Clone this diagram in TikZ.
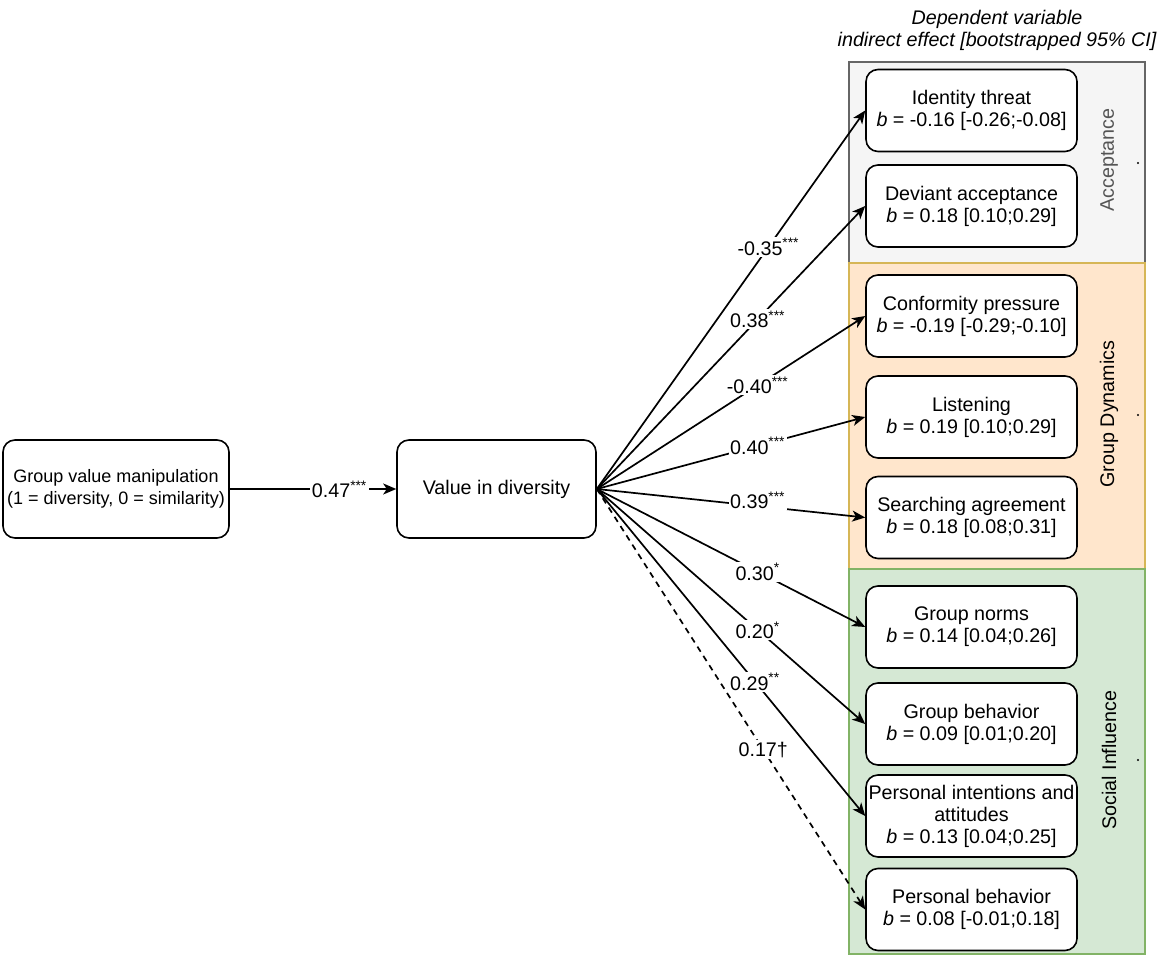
\documentclass[tikz,border=0pt]{standalone}
\usepackage{fontspec}
\setmainfont{Liberation Sans}
\usetikzlibrary{arrows.meta}
\definecolor{accfill}{HTML}{F5F5F5}
\definecolor{accline}{HTML}{666666}
\definecolor{acctext}{HTML}{555555}
\definecolor{gdfill}{HTML}{FFE6CC}
\definecolor{gdline}{HTML}{D6B656}
\definecolor{sifill}{HTML}{D5E8D4}
\definecolor{siline}{HTML}{82B366}
\begin{document}
\begin{tikzpicture}[x=0.5pt,y=-0.5pt,
  every node/.style={font=\fontsize{9.85}{11}\selectfont},
  box/.style={draw, rounded corners=6pt, line width=0.8pt, fill=white, align=center, inner sep=0pt, minimum width=105.5pt, minimum height=41pt},
  lab/.style={fill=white, inner sep=0.8pt},
  arr/.style={-{Stealth[length=6.5pt,width=5.5pt,inset=1.8pt]}, line width=0.85pt},
  panel/.style={line width=0.6pt}]
\useasboundingbox (0,0) rectangle (1170,961);
\filldraw[panel, draw=accline, fill=accfill] (849,62) rectangle (1145,263);
\filldraw[panel, draw=gdline, fill=gdfill] (849,263) rectangle (1145,569);
\filldraw[panel, draw=siline, fill=sifill] (849,569) rectangle (1145,954);
\node[rotate=90, text=acctext] (pacc) at (1109,160) {Acceptance};
\node[rotate=90] (pgd) at (1109,414) {Group Dynamics};
\node[rotate=90] (psi) at (1109,760) {Social Influence};
\fill (1138,163) circle (1.2);
\fill (1138,415) circle (1.2);
\fill (1138,760) circle (1.2);
\node[align=center, font=\fontsize{9.85}{11}\selectfont\itshape] (hdr) at (997,30) {Dependent variable\\indirect effect [bootstrapped 95\% CI]};
\node[box, minimum width=113pt, minimum height=49pt, font=\fontsize{9}{11}\selectfont] (gvm) at (116,489) {Group value manipulation\\(1 = diversity, 0 = similarity)};
\node[box, minimum width=99.5pt, minimum height=49pt] (vid) at (496.5,489) {Value in diversity};
\node[box] (dv0) at (971.5,110.5) {Identity threat\\\textit{b} = -0.16 [-0.26;-0.08]};
\node[box] (dv1) at (971.5,206) {Deviant acceptance\\\textit{b} = 0.18 [0.10;0.29]};
\node[box] (dv2) at (971.5,316) {Conformity pressure\\\textit{b} = -0.19 [-0.29;-0.10]};
\node[box] (dv3) at (971.5,417) {Listening\\\textit{b} = 0.19 [0.10;0.29]};
\node[box] (dv4) at (971.5,517.5) {Searching agreement\\\textit{b} = 0.18 [0.08;0.31]};
\node[box] (dv5) at (971.5,627) {Group norms\\\textit{b} = 0.14 [0.04;0.26]};
\node[box] (dv6) at (971.5,724) {Group behavior\\\textit{b} = 0.09 [0.01;0.20]};
\node[box] (dv7) at (971.5,816) {Personal intentions and\\attitudes\\\textit{b} = 0.13 [0.04;0.25]};
\node[box] (dv8) at (971.5,909.5) {Personal behavior\\\textit{b} = 0.08 [-0.01;0.18]};
\draw[arr] (gvm) -- node[lab, pos=0.66] {0.47\textsuperscript{***}} (vid);
\draw[arr] (vid.east) -- node[lab, pos=0.64] {-0.35\textsuperscript{***}} (dv0.west);
\draw[arr] (vid.east) -- node[lab, pos=0.6] {0.38\textsuperscript{***}} (dv1.west);
\draw[arr] (vid.east) -- node[lab, pos=0.6] {-0.40\textsuperscript{***}} (dv2.west);
\draw[arr] (vid.east) -- node[lab, pos=0.6] {0.40\textsuperscript{***}} (dv3.west);
\draw[arr] (vid.east) -- node[lab, pos=0.6, yshift=3pt] {0.39\textsuperscript{***}} (dv4.west);
\draw[arr] (vid.east) -- node[lab, pos=0.6] {0.30\textsuperscript{*}} (dv5.west);
\draw[arr] (vid.east) -- node[lab, pos=0.6] {0.20\textsuperscript{*}} (dv6.west);
\draw[arr] (vid.east) -- node[lab, pos=0.59] {0.29\textsuperscript{**}} (dv7.west);
\draw[arr, dash pattern=on 3pt off 2.5pt] (vid.east) -- node[lab, pos=0.62] {0.17†} (dv8.west);
\end{tikzpicture}
\end{document}
